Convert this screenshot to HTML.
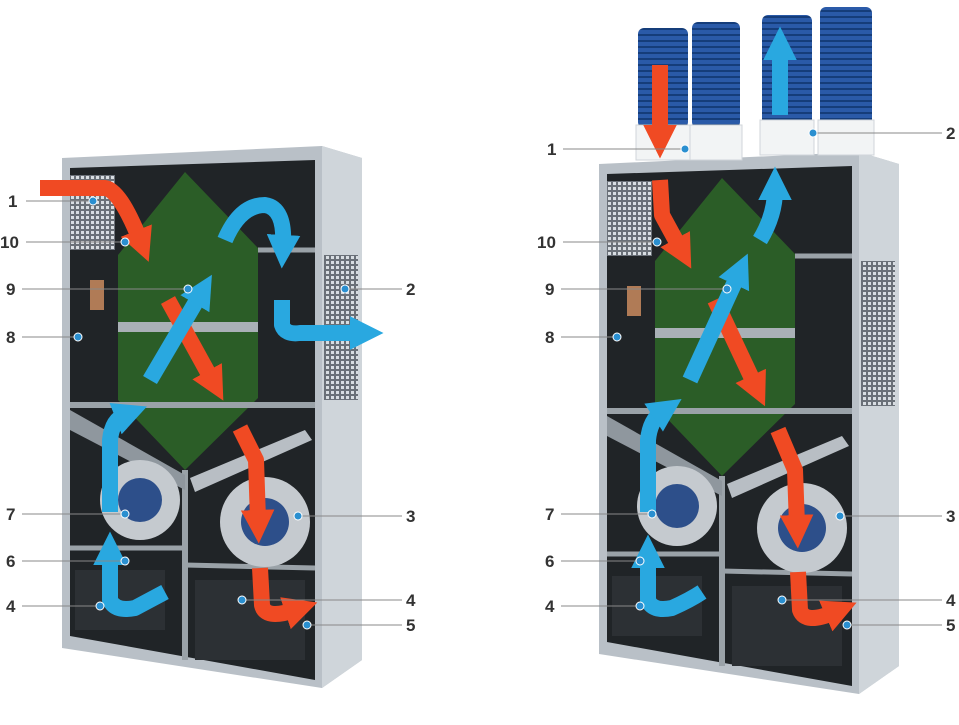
<!DOCTYPE html>
<html><head><meta charset="utf-8"><style>
html,body{margin:0;padding:0;background:#fff;}
svg{display:block}
text{font-family:"Liberation Sans",sans-serif;font-weight:bold;font-size:17px;fill:#333;}
</style></head><body>
<svg width="959" height="725" viewBox="0 0 959 725" xmlns="http://www.w3.org/2000/svg">
<defs>
<pattern id="mesh" width="5" height="5" patternUnits="userSpaceOnUse"><rect width="5" height="5" fill="#6a7078"/><rect x="1" y="1" width="3" height="3" fill="#d8dde2"/></pattern>
<pattern id="rib" width="10" height="6" patternUnits="userSpaceOnUse"><rect width="10" height="6" fill="#2a5aa8"/><rect y="4" width="10" height="2" fill="#153d7a"/></pattern>
<marker id="ar" viewBox="0 0 10 10" refX="3" refY="5" markerWidth="2.1" markerHeight="2.1" orient="auto"><path d="M0,0L10,5L0,10z" fill="#f04a23"/></marker>
<marker id="ab" viewBox="0 0 10 10" refX="3" refY="5" markerWidth="2.1" markerHeight="2.1" orient="auto"><path d="M0,0L10,5L0,10z" fill="#29a8e0"/></marker>
<g id="unit">
<polygon points="62,158 322,146 362,158 362,660 322,688 62,648" fill="#b9c0c7"/>
<polygon points="322,146 362,158 362,660 322,688" fill="#cfd5da"/>
<polygon points="70,168 315,160 315,680 70,636" fill="#202427"/>
<rect x="70" y="175" width="45" height="75" fill="url(#mesh)"/>
<rect x="324" y="255" width="34" height="145" fill="url(#mesh)"/>
<polygon points="185,172 258,248 258,398 185,470 118,400 118,255" fill="#2b5d27"/>
<polygon points="118,322 258,322 258,332 118,332" fill="#a9b0b6"/>
<line x1="70" y1="405" x2="315" y2="405" stroke="#9aa2a8" stroke-width="6"/>
<line x1="185" y1="470" x2="185" y2="660" stroke="#9aa2a8" stroke-width="6"/>
<line x1="70" y1="548" x2="185" y2="548" stroke="#9aa2a8" stroke-width="5"/>
<line x1="185" y1="565" x2="315" y2="568" stroke="#9aa2a8" stroke-width="5"/>
<line x1="258" y1="250" x2="315" y2="250" stroke="#9aa2a8" stroke-width="5"/>
<polygon points="70,410 185,475 185,490 70,430" fill="#8f979e"/>
<polygon points="190,478 305,430 312,440 195,492" fill="#b8bec4"/>
<circle cx="140" cy="500" r="40" fill="#c5cacf"/><circle cx="140" cy="500" r="22" fill="#2d4f8a"/>
<circle cx="265" cy="522" r="45" fill="#c5cacf"/><circle cx="265" cy="522" r="24" fill="#2d4f8a"/>
<rect x="90" y="280" width="14" height="30" fill="#b07b56"/>
<rect x="75" y="570" width="90" height="60" fill="#2c3034"/>
<rect x="195" y="580" width="110" height="80" fill="#2c3034"/>
</g>
</defs>
<use href="#unit"/>
<use href="#unit" transform="translate(537,6)"/>
<!-- ducts -->
<g fill="url(#rib)">
<rect x="638" y="28" width="50" height="100" rx="6"/>
<rect x="692" y="22" width="48" height="106" rx="6"/>
<rect x="762" y="15" width="50" height="110" rx="6"/>
<rect x="820" y="7" width="52" height="118" rx="6"/>
</g>
<g fill="#f2f4f5" stroke="#d0d5da">
<rect x="636" y="125" width="54" height="35"/>
<rect x="690" y="125" width="52" height="35"/>
<rect x="760" y="120" width="54" height="35"/>
<rect x="818" y="120" width="56" height="35"/>
</g>
<g fill="none" stroke-width="16" stroke-linejoin="round">
<path d="M40,188 L105,188 Q120,190 140,240" stroke="#f04a23" marker-end="url(#ar)"/>
<path d="M168,300 L212,380" stroke="#f04a23" marker-end="url(#ar)"/>
<path d="M240,428 L256,460 L258,520" stroke="#f04a23" marker-end="url(#ar)"/>
<path d="M260,568 L262,605 Q265,620 295,610" stroke="#f04a23" marker-end="url(#ar)"/>
<path d="M150,380 L200,295" stroke="#29a8e0" marker-end="url(#ab)"/>
<path d="M225,240 Q240,205 265,205 Q285,208 283,245" stroke="#29a8e0" marker-end="url(#ab)"/>
<path d="M282,300 L282,325 Q285,335 300,333 L360,333" stroke="#29a8e0" marker-end="url(#ab)"/>
<path d="M110,512 L110,440 Q112,420 125,415" stroke="#29a8e0" marker-end="url(#ab)"/>
<path d="M110,570 L110,600 Q115,612 135,608 Q150,600 165,592" stroke="#29a8e0"/>
<path d="M110,575 L110,555" stroke="#29a8e0" marker-end="url(#ab)"/>
<path d="M660,65 L660,135" stroke="#f04a23" marker-end="url(#ar)"/>
<path d="M660,180 L662,215 L680,248" stroke="#f04a23" marker-end="url(#ar)"/>
<path d="M715,300 L755,385" stroke="#f04a23" marker-end="url(#ar)"/>
<path d="M778,430 L795,470 L797,525" stroke="#f04a23" marker-end="url(#ar)"/>
<path d="M798,572 L800,610 Q805,625 835,612" stroke="#f04a23" marker-end="url(#ar)"/>
<path d="M690,380 L738,275" stroke="#29a8e0" marker-end="url(#ab)"/>
<path d="M760,240 Q775,215 775,190" stroke="#29a8e0" marker-end="url(#ab)"/>
<path d="M780,115 L780,50" stroke="#29a8e0" marker-end="url(#ab)"/>
<path d="M648,512 L648,440 Q650,420 662,412" stroke="#29a8e0" marker-end="url(#ab)"/>
<path d="M648,570 L648,600 Q652,612 672,608 Q690,600 702,592" stroke="#29a8e0"/>
<path d="M648,575 L648,558" stroke="#29a8e0" marker-end="url(#ab)"/>
</g>
<g stroke="#888" stroke-width="1">
<line x1="26" y1="201" x2="93" y2="201"/><line x1="26" y1="242" x2="125" y2="242"/>
<line x1="22" y1="289" x2="188" y2="289"/><line x1="22" y1="337" x2="78" y2="337"/>
<line x1="22" y1="514" x2="125" y2="514"/><line x1="22" y1="561" x2="125" y2="561"/>
<line x1="22" y1="606" x2="100" y2="606"/>
<line x1="345" y1="289" x2="402" y2="289"/><line x1="298" y1="516" x2="402" y2="516"/>
<line x1="242" y1="600" x2="402" y2="600"/><line x1="307" y1="625" x2="402" y2="625"/>
<line x1="563" y1="149" x2="685" y2="149"/><line x1="563" y1="242" x2="657" y2="242"/>
<line x1="561" y1="289" x2="727" y2="289"/><line x1="561" y1="337" x2="617" y2="337"/>
<line x1="561" y1="514" x2="652" y2="514"/><line x1="561" y1="561" x2="640" y2="561"/>
<line x1="561" y1="606" x2="640" y2="606"/>
<line x1="813" y1="133" x2="942" y2="133"/><line x1="840" y1="516" x2="942" y2="516"/>
<line x1="782" y1="600" x2="942" y2="600"/><line x1="847" y1="625" x2="942" y2="625"/>
</g>
<g fill="#2a8fd0" stroke="#fff" stroke-width="1">
<circle cx="93" cy="201" r="4"/><circle cx="125" cy="242" r="4"/><circle cx="188" cy="289" r="4"/><circle cx="78" cy="337" r="4"/><circle cx="125" cy="514" r="4"/><circle cx="125" cy="561" r="4"/><circle cx="100" cy="606" r="4"/>
<circle cx="345" cy="289" r="4"/><circle cx="298" cy="516" r="4"/><circle cx="242" cy="600" r="4"/><circle cx="307" cy="625" r="4"/>
<circle cx="685" cy="149" r="4"/><circle cx="657" cy="242" r="4"/><circle cx="727" cy="289" r="4"/><circle cx="617" cy="337" r="4"/><circle cx="652" cy="514" r="4"/><circle cx="640" cy="561" r="4"/><circle cx="640" cy="606" r="4"/>
<circle cx="813" cy="133" r="4"/><circle cx="840" cy="516" r="4"/><circle cx="782" cy="600" r="4"/><circle cx="847" cy="625" r="4"/>
</g>
<g>
<text x="8" y="207">1</text><text x="0" y="248">10</text><text x="6" y="295">9</text><text x="6" y="343">8</text><text x="6" y="520">7</text><text x="6" y="567">6</text><text x="6" y="612">4</text>
<text x="406" y="295">2</text><text x="406" y="522">3</text><text x="406" y="606">4</text><text x="406" y="631">5</text>
<text x="547" y="155">1</text><text x="537" y="248">10</text><text x="545" y="295">9</text><text x="545" y="343">8</text><text x="545" y="520">7</text><text x="545" y="567">6</text><text x="545" y="612">4</text>
<text x="946" y="139">2</text><text x="946" y="522">3</text><text x="946" y="606">4</text><text x="946" y="631">5</text>
</g>
</svg>
</body></html>
